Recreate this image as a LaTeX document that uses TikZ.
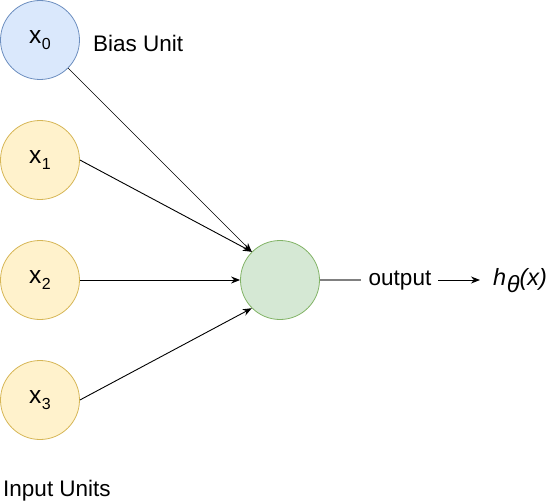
\documentclass[tikz,border=0pt]{standalone}
\usepackage{fontspec}
\setmainfont{Liberation Sans}
\usetikzlibrary{arrows.meta}
\definecolor{bluefill}{HTML}{DAE8FC}
\definecolor{bluedraw}{HTML}{6C8EBF}
\definecolor{yelfill}{HTML}{FFF2CC}
\definecolor{yeldraw}{HTML}{D6B656}
\definecolor{grnfill}{HTML}{D5E8D4}
\definecolor{grndraw}{HTML}{82B366}
\tikzset{
  unit/.style={circle, minimum size=79pt, inner sep=0pt, line width=0.8pt, font=\fontsize{24.5}{27}\selectfont},
  biasunit/.style={unit, fill=bluefill, draw=bluedraw},
  inunit/.style={unit, fill=yelfill, draw=yeldraw},
  outunit/.style={unit, fill=grnfill, draw=grndraw},
  lbl/.style={font=\fontsize{22.5}{25}\selectfont, inner sep=0pt},
  conn/.style={line width=0.9pt, -{Stealth[length=9pt,width=7pt]}},
}
\newcommand{\xsub}[1]{x\kern0.5pt\raisebox{-0.25em}{\fontsize{16}{17}\selectfont #1}}
\begin{document}
\begin{tikzpicture}[x=1pt,y=-1pt]
\useasboundingbox (0,0) rectangle (552,503);
\node[biasunit] (x0) at (40,40) {\xsub{0}};
\node[inunit] (x1) at (40,160) {\xsub{1}};
\node[inunit] (x2) at (40,280) {\xsub{2}};
\node[inunit] (x3) at (40,400) {\xsub{3}};
\node[outunit] (out) at (280,280) {};
\node[lbl, anchor=west] (bias) at (93,43) {Bias Unit};
\node[lbl] (inputs) at (57,491) {Input Units};
\node[lbl] (otext) at (400,281) {output};
\node[lbl, anchor=west, font=\fontsize{23.5}{26}\selectfont] (h) at (493,281) {\itshape h\kern0.5pt\raisebox{-0.3em}{θ}(x)};
\coordinate (oend) at (361,280);
\coordinate (astart) at (438,280);
\coordinate (aend) at (480,280);
\draw[conn, line width=0.7pt] (x0.-45) -- (out.135);
\draw[conn] (x1.0) -- (out.135);
\draw[conn] (x2.0) -- (out.180);
\draw[conn] (x3.0) -- (out.225);
\draw[line width=1.5pt, gray] (out.0) -- (oend);
\draw[conn] (astart) -- (aend);
\end{tikzpicture}
\end{document}
